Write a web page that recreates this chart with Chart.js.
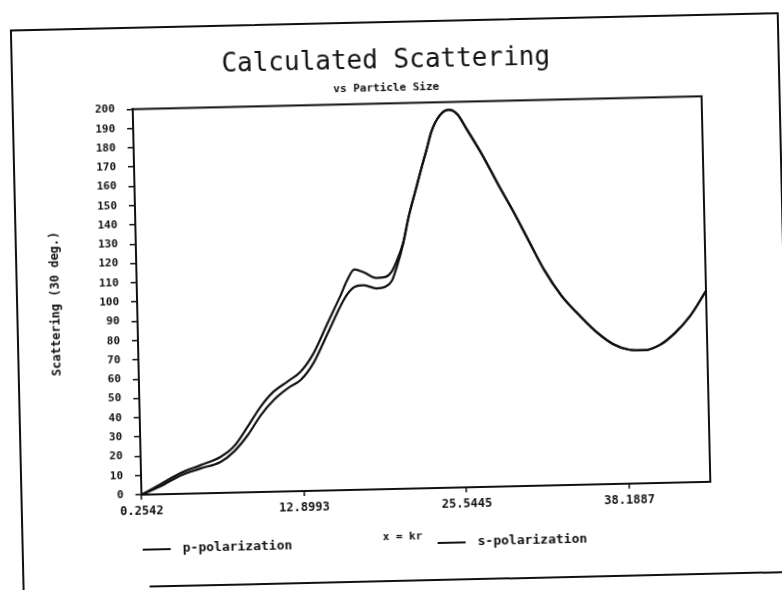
<!DOCTYPE html>
<html>
<head>
<meta charset="utf-8">
<script src="https://cdn.jsdelivr.net/npm/chart.js@4.4.1/dist/chart.umd.min.js"></script>
<style>
  html, body { margin: 0; padding: 0; background: #fff; overflow: hidden; }
  #page { position: relative; width: 782px; height: 590px; transform: rotate(-1.3deg); transform-origin: 50% 50%; }
  #frame { position: absolute; left: 16px; top: 21px; width: 765px; height: 660px; border: 2px solid #111; }
  #rule { position: absolute; left: 143px; top: 580px; width: 720px; border-top: 2px solid #111; }
  canvas { position: absolute; left: 0; top: 0; }
</style>
</head>
<body>
<div id="page">
  <div id="frame"></div>
  <div id="rule"></div>
  <canvas id="chart" width="782" height="590"></canvas>
</div>
<script>
// size parameter x = kr
const sizes = [0.2542, 1.75, 3.32, 4.89, 6.47, 7.51, 8.63, 9.68, 10.71, 11.82,
  12.85, 13.89, 15.03, 16.1, 16.6, 17.2, 17.9, 18.9, 19.6, 20.1,
  20.5, 21.04, 21.5, 22.16, 22.59, 23.0, 23.44, 24.09, 24.8, 25.49,
  26.16, 27.28, 28.25, 28.77, 29.74, 30.78, 31.97, 33.23, 34.75, 36.0,
  37.2, 38.4, 39.6, 40.8, 42.0, 43.2, 44.5];

// scattering at 30 deg
const pPolarization = [0, 4.1, 9.5, 12.9, 16.1, 21.2, 29.7, 39.9, 47.6, 53.5,
  57.7, 66.6, 81.7, 96, 101.5, 105.3, 106, 104.2, 105, 108,
  115, 127, 140.6, 156, 166, 175, 185, 193, 196, 193.5,
  186, 173, 160.4, 153.6, 141.5, 127.5, 111.7, 98.5, 86.9, 78.5,
  72.5, 69.5, 69, 71.5, 77.5, 86, 99];
const sPolarization = [0, 5.2, 10.8, 14.6, 18.7, 23.8, 34, 44.3, 51.9, 57,
  62, 71.4, 86.9, 101.2, 108.5, 114.3, 112.8, 109.6, 110, 112.8,
  118, 127.5, 140.6, 156, 166, 175, 185, 193, 196, 193.5,
  186, 173, 160.4, 153.6, 141.5, 127.5, 111.7, 98.5, 86.9, 78.5,
  72.5, 69.5, 69, 71.5, 77.5, 86, 99];

const xTicks = [0.2542, 12.8993, 25.5445, 38.1887];
const xTickLabels = ['0.2542', '12.8993', '25.5445', '38.1887'];
const xTitle = 'x = kr';

const ink = '#111';
const mono = 'DejaVu Sans Mono';

const toPoints = (ys) => sizes.map((x, i) => ({ x: x, y: ys[i] }));

// box round the plotting area
const plotFrame = {
  id: 'plotFrame',
  beforeDatasetsDraw(chart) {
    const { ctx, chartArea: a } = chart;
    ctx.save();
    ctx.strokeStyle = ink;
    ctx.lineWidth = 2;
    ctx.strokeRect(a.left, a.top, a.right - a.left, a.bottom - a.top);
    ctx.restore();
  }
};

// axis caption and legend entries share one row under the x axis
const captionRow = {
  id: 'captionRow',
  afterDraw(chart, args, opts) {
    const ctx = chart.ctx;
    ctx.save();
    ctx.font = 'bold 11px "' + mono + '"';
    ctx.fillStyle = ink;
    ctx.textAlign = 'center';
    ctx.textBaseline = 'middle';
    ctx.fillText(xTitle, opts.titleX, opts.titleY);

    ctx.font = 'bold 13px "' + mono + '"';
    ctx.textAlign = 'left';
    chart.data.datasets.forEach((ds, i) => {
      const x = opts.legendX[i];
      ctx.strokeStyle = ds.borderColor;
      ctx.lineWidth = 2;
      ctx.beginPath();
      ctx.moveTo(x, opts.legendY);
      ctx.lineTo(x + opts.lineLength, opts.legendY);
      ctx.stroke();
      ctx.fillText(ds.label, x + opts.lineLength + 12, opts.legendY);
    });
    ctx.restore();
  }
};

const lineStyle = {
  borderColor: ink,
  borderWidth: 2.2,
  pointRadius: 0,
  fill: false,
  cubicInterpolationMode: 'monotone'
};

new Chart(document.getElementById('chart'), {
  type: 'line',
  data: {
    datasets: [
      Object.assign({ label: 'p-polarization', data: toPoints(pPolarization) }, lineStyle),
      Object.assign({ label: 's-polarization', data: toPoints(sPolarization) }, lineStyle)
    ]
  },
  options: {
    responsive: false,
    animation: false,
    layout: { padding: { left: 20, right: 20, top: 30, bottom: 77 } },
    plugins: {
      legend: { display: false },
      tooltip: { enabled: false },
      title: {
        display: true,
        text: 'Calculated Scattering',
        color: ink,
        font: { family: mono, size: 26, weight: 'normal' },
        padding: { top: 16, bottom: 0 }
      },
      subtitle: {
        display: true,
        text: 'vs Particle Size',
        color: ink,
        font: { family: mono, size: 11, weight: 'bold' },
        padding: { top: 4, bottom: 9 }
      },
      captionRow: { titleX: 397, titleY: 537, legendX: [137, 432], legendY: 544, lineLength: 28 }
    },
    scales: {
      x: {
        type: 'linear',
        min: 0.2542,
        max: 44.5,
        afterBuildTicks: (scale) => { scale.ticks = xTicks.map(v => ({ value: v })); },
        grid: { display: true, drawOnChartArea: false, drawTicks: true, tickLength: 5, color: ink, lineWidth: 1.5 },
        border: { color: ink, width: 2 },
        ticks: {
          color: ink,
          padding: 5,
          maxRotation: 0,
          autoSkip: false,
          font: { family: mono, size: 12, weight: 'bold' },
          callback: (value) => xTickLabels[xTicks.indexOf(value)]
        },
        afterFit: (scale) => { scale.height = 24; }
      },
      y: {
        min: 0,
        max: 200,
        grid: { display: true, drawOnChartArea: false, drawTicks: true, tickLength: 6, color: ink, lineWidth: 1.5 },
        border: { color: ink, width: 2 },
        ticks: {
          stepSize: 10,
          autoSkip: false,
          color: ink,
          padding: 12,
          font: { family: mono, size: 11, weight: 'bold' }
        },
        title: {
          display: true,
          text: 'Scattering (30 deg.)',
          color: ink,
          font: { family: mono, size: 12, weight: 'bold' },
          padding: { top: 29, bottom: 36 }
        },
        afterFit: (scale) => { scale.width = 117; }
      },
      // empty right-hand axis keeping the plot clear of the frame
      yRight: {
        position: 'right',
        grid: { display: false },
        border: { display: false },
        ticks: { display: false },
        afterFit: (scale) => { scale.width = 56; }
      }
    }
  },
  plugins: [plotFrame, captionRow]
});
</script>
</body>
</html>
